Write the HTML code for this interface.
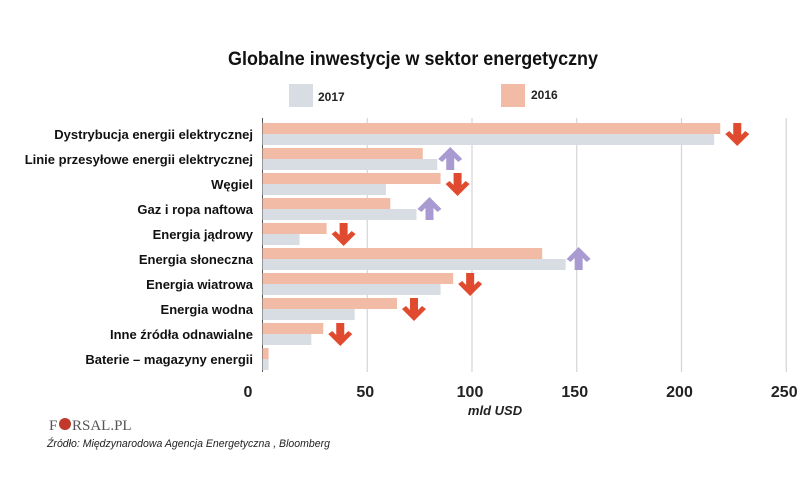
<!DOCTYPE html>
<html><head><meta charset="utf-8"><style>
body{margin:0;background:#fff;width:805px;height:478px;overflow:hidden}
svg{display:block;font-family:"Liberation Sans",sans-serif}
</style></head><body>
<svg id="chart" width="805" height="478">
<text x="413" y="65" text-anchor="middle" font-size="19" font-weight="bold" textLength="370" lengthAdjust="spacingAndGlyphs" fill="#111">Globalne inwestycje w sektor energetyczny</text>
<g>
<rect x="289" y="84" width="24" height="23" fill="#d7dde2"/>
<text x="318" y="101" font-size="12" font-weight="bold" fill="#222">2017</text>
<rect x="501" y="84" width="24" height="23" fill="#f2bba6"/>
<text x="531" y="99" font-size="12" font-weight="bold" fill="#222">2016</text>
</g>
<g id="grid"></g><g id="bars"></g><g id="labels"></g><g id="arrows"></g>
<text x="495" y="415" text-anchor="middle" font-size="13" font-style="italic" font-weight="bold" fill="#222">mld USD</text>
<g>
<text x="49" y="430" font-family="Liberation Serif,serif" font-size="15" fill="#555">F</text>
<circle cx="65" cy="424" r="6" fill="#c0392b"/>
<text x="72" y="430" font-family="Liberation Serif,serif" font-size="15" fill="#555">RSAL.PL</text>
</g>
<text x="47" y="447" font-size="11" font-style="italic" fill="#222" textLength="283" lengthAdjust="spacingAndGlyphs">Źródło: Międzynarodowa Agencja Energetyczna , Bloomberg</text>
</svg>
<script>
const categories=["Dystrybucja energii elektrycznej","Linie przesyłowe energii elektrycznej","Węgiel","Gaz i ropa naftowa","Energia jądrowy","Energia słoneczna","Energia wiatrowa","Energia wodna","Inne źródła odnawialne","Baterie – magazyny energii"];
const values2016=[218.5,76.5,85,61,30.6,133.5,91,64.2,29,2.9];
const values2017=[215.6,83.4,58.9,73.5,17.7,144.7,85,44,23.3,2.9];
const ticks=[0,50,100,150,200,250];
const NS="http://www.w3.org/2000/svg";
const x0=262.5,pxPer=2.095,top0=123,pitch=25,bh=11;
const xs=v=>x0+v*pxPer;
function mk(tag,attrs,parent){const e=document.createElementNS(NS,tag);for(const k in attrs)e.setAttribute(k,attrs[k]);document.getElementById(parent).appendChild(e);return e;}
ticks.forEach((t,i)=>{
 if(t>0){const g=mk('line',{x1:xs(t),x2:xs(t),y1:118,y2:372,stroke:'#d4d4d4','stroke-width':1.2},'grid');
 
 }
 const l=mk('text',{x:t===0?248:xs(t)-2,y:397,'text-anchor':'middle','font-size':16,'font-weight':'bold',fill:'#222'},'labels');
 l.textContent=t;
 
 
});
const ax=mk('line',{x1:x0,x2:x0,y1:118,y2:372,stroke:'#555','stroke-width':1},'grid');


categories.forEach((c,i)=>{
 const y=top0+i*pitch;
 const a=mk('rect',{x:x0,y:y,width:xs(values2016[i])-x0,height:bh,fill:'#f2bba6'},'bars');
 
 
 const b=mk('rect',{x:x0,y:y+bh,width:xs(values2017[i])-x0,height:bh,fill:'#d7dde2'},'bars');
 
 
 const t=mk('text',{x:253,y:y+bh+5,'text-anchor':'end','font-size':13,'font-weight':'bold',fill:'#111'},'labels');
 t.textContent=c;
 
 
 if(i<categories.length-1){
  const up=values2017[i]>values2016[i];
  const cx=xs(Math.max(values2016[i],values2017[i]))+(up?13:17);
  const cy=y+bh;
  const s=up?-1:1;
  const d=`M${cx-12},${cy} L${cx},${cy+12*s} L${cx+12},${cy} L${cx+8},${cy-3*s} L${cx+4},${cy+1*s} L${cx+4},${cy-11*s} L${cx-4},${cy-11*s} L${cx-4},${cy+1*s} L${cx-8},${cy-3*s} Z`;
  const p=mk('path',{d:d,fill:up?'#a99bd1':'#e04a2f'},'arrows');
  
  
 }
});
</script>
</body></html>
